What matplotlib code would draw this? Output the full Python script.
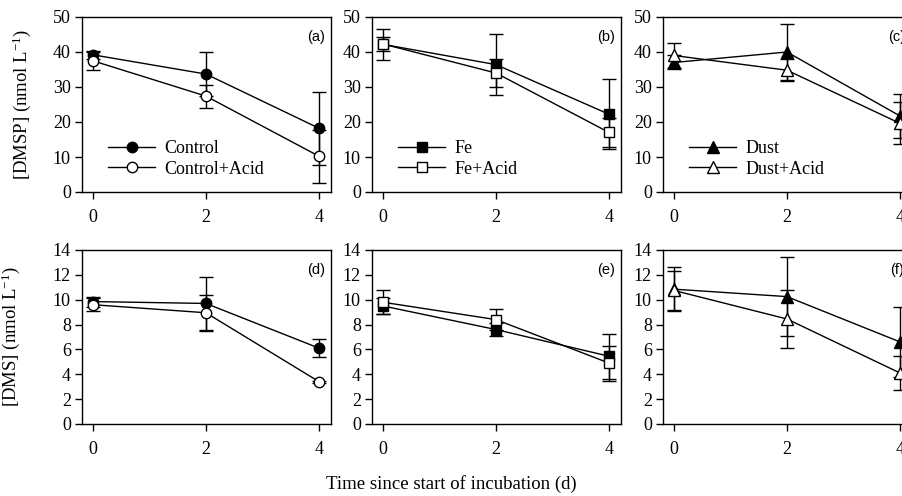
import numpy as np
import matplotlib
matplotlib.use("Agg")
import matplotlib.pyplot as plt

plt.rcParams['font.family'] = ['Liberation Serif', 'DejaVu Serif']
plt.rcParams['mathtext.fontset'] = 'custom'
plt.rcParams['mathtext.rm'] = 'Liberation Serif'
plt.rcParams['mathtext.it'] = 'Liberation Serif:italic'

days = [0, 2, 4]

# DMSP (nmol L-1)
dmsp_control = [39.2, 33.7, 18.2]
dmsp_control_err = [1.2, 6.2, 10.5]
dmsp_control_acid = [37.5, 27.4, 10.2]
dmsp_control_acid_err = [2.6, 3.3, 7.6]
dmsp_fe = [42.2, 36.4, 22.2]
dmsp_fe_err = [4.4, 8.6, 10.0]
dmsp_fe_acid = [42.3, 34.0, 17.0]
dmsp_fe_acid_err = [2.1, 4.1, 4.2]
dmsp_dust = [37.0, 40.0, 21.7]
dmsp_dust_err = [2.0, 8.0, 6.2]
dmsp_dust_acid = [39.0, 34.8, 19.6]
dmsp_dust_acid_err = [3.6, 3.2, 6.0]

# DMS (nmol L-1)
dms_control = [9.85, 9.7, 6.1]
dms_control_err = [0.4, 2.15, 0.7]
dms_control_acid = [9.6, 8.95, 3.4]
dms_control_acid_err = [0.5, 1.45, 0.1]
dms_fe = [9.5, 7.6, 5.45]
dms_fe_err = [0.65, 0.5, 1.8]
dms_fe_acid = [9.8, 8.4, 4.9]
dms_fe_acid_err = [0.95, 0.85, 1.4]
dms_dust = [10.85, 10.25, 6.6]
dms_dust_err = [1.75, 3.2, 2.8]
dms_dust_acid = [10.75, 8.45, 4.1]
dms_dust_acid_err = [1.55, 2.35, 1.4]

panels = [
    ("(a)", "o", "Control", dmsp_control, dmsp_control_err, dmsp_control_acid, dmsp_control_acid_err),
    ("(b)", "s", "Fe", dmsp_fe, dmsp_fe_err, dmsp_fe_acid, dmsp_fe_acid_err),
    ("(c)", "^", "Dust", dmsp_dust, dmsp_dust_err, dmsp_dust_acid, dmsp_dust_acid_err),
    ("(d)", "o", "Control", dms_control, dms_control_err, dms_control_acid, dms_control_acid_err),
    ("(e)", "s", "Fe", dms_fe, dms_fe_err, dms_fe_acid, dms_fe_acid_err),
    ("(f)", "^", "Dust", dms_dust, dms_dust_err, dms_dust_acid, dms_dust_acid_err),
]
msize = {"o": 7.5, "s": 6.5, "^": 8}

W, H = 902, 496
fig = plt.figure(figsize=(W / 100, H / 100), dpi=100)

lefts = [82, 372, 663]
rows = [(17, 192), (250, 424)]

for k, (lab, mk, name, y1, e1, y2, e2) in enumerate(panels):
    r, c = divmod(k, 3)
    top, bot = rows[r]
    ax = fig.add_axes([lefts[c] / W, (H - bot) / H, 249 / W, (bot - top) / H])
    ax.errorbar(days, y1, yerr=e1, color='k', marker=mk, ms=msize[mk], mfc='k', mec='k',
                lw=1, elinewidth=1, capsize=5, capthick=1, label=name, zorder=3)
    ax.errorbar(days, y2, yerr=e2, color='k', marker=mk, ms=msize[mk], mfc='white', mec='k',
                lw=1, elinewidth=1, capsize=5, capthick=1, label=name + "+Acid", zorder=3)
    ax.set_xlim(-0.19, 4.21)
    ax.set_xticks(days)
    if r == 0:
        ax.set_ylim(0, 50)
        ax.set_yticks(range(0, 51, 10))
        h, l = ax.get_legend_handles_labels()
        h = [x[0] for x in h]
        ax.legend(h, l, loc='lower left', bbox_to_anchor=(0.07, 0.03), frameon=False,
                  fontsize=13, handlelength=2.6, handletextpad=0.5, labelspacing=0.2,
                  borderpad=0)
    else:
        ax.set_ylim(0, 14)
        ax.set_yticks(range(0, 15, 2))
    ax.tick_params(direction='out', labelsize=13, length=5, width=1)
    ax.tick_params(axis='x', pad=7)
    ax.tick_params(axis='y', pad=3)
    for s in ax.spines.values():
        s.set_linewidth(1)
    ax.text(0.94, 0.885, lab, transform=ax.transAxes, ha='center', va='center',
            fontsize=10.5, family=['Liberation Sans', 'DejaVu Sans'])
    if c == 0:
        if r == 0:
            ax.set_ylabel("[DMSP] (nmol L$^{-1}$)", fontsize=13.5, labelpad=14)
        else:
            ax.set_ylabel("[DMS] (nmol L$^{-1}$)", fontsize=13.5, labelpad=22)

fig.text(0.5, 1 - 484 / H, "Time since start of incubation (d)", ha='center', va='center',
         fontsize=13.5)

fig.savefig("out.png", dpi=100)
